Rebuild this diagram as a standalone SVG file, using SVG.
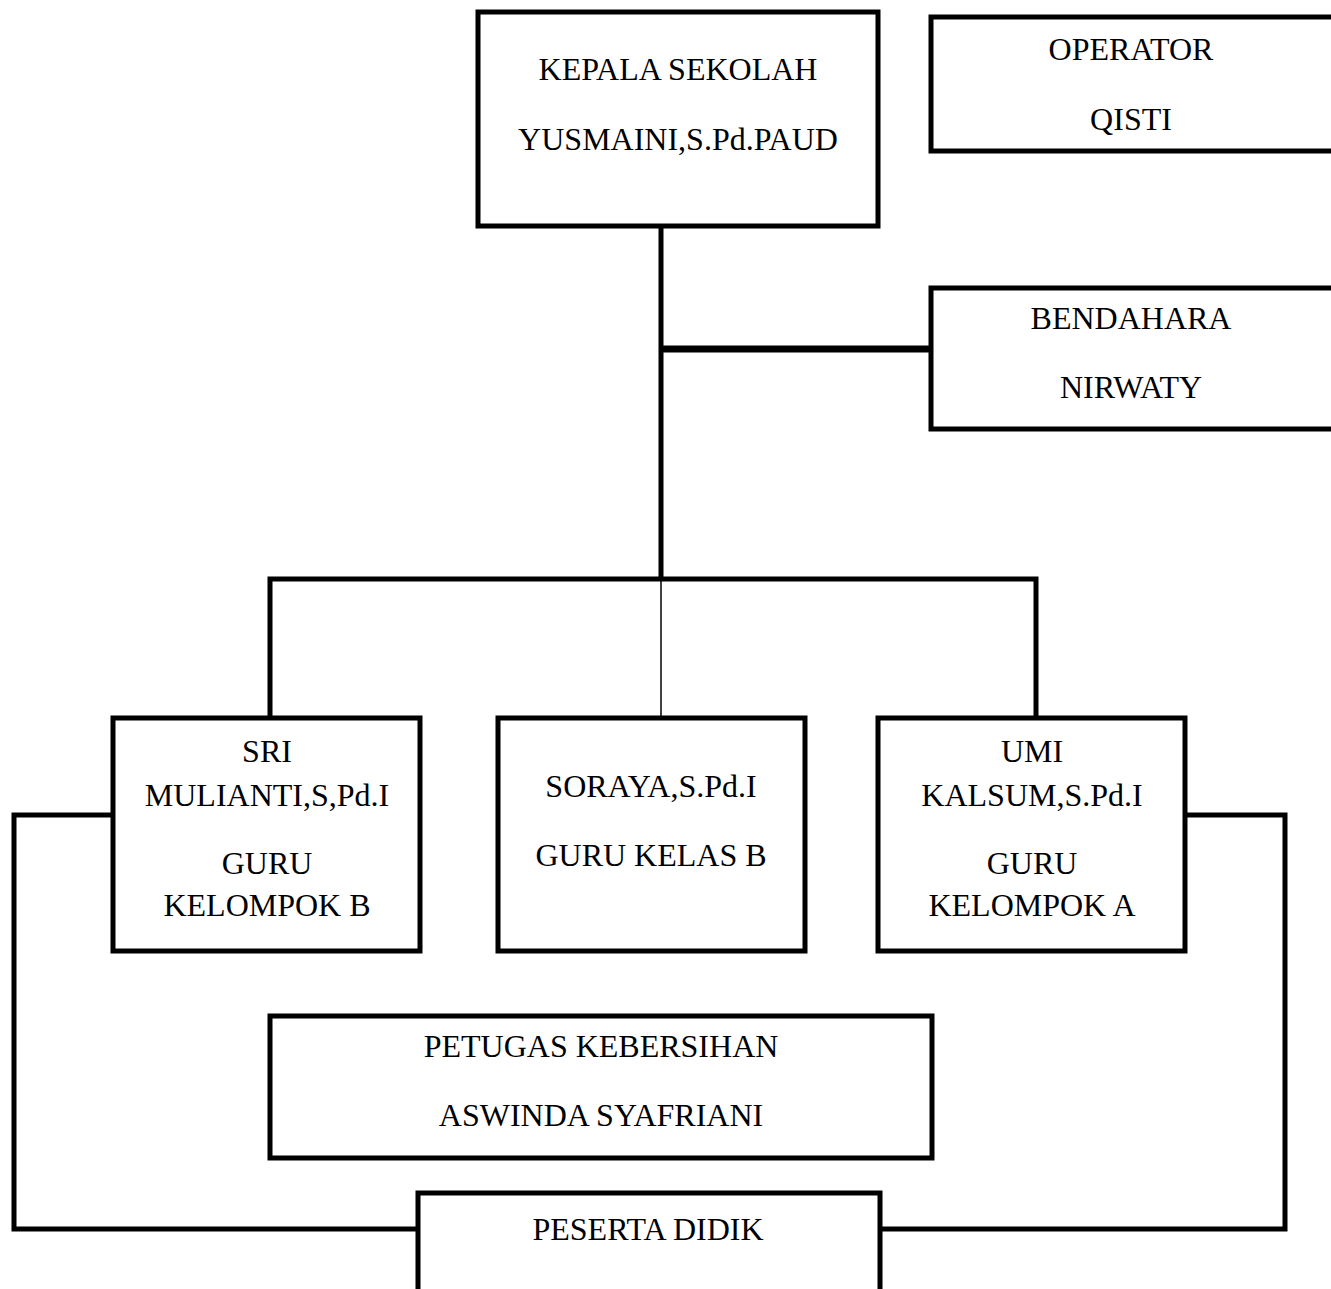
<svg xmlns="http://www.w3.org/2000/svg" width="1331" height="1289" viewBox="0 0 1331 1289">
<style>
.box{fill:#fff;stroke:#000;stroke-width:5}
.t{font-family:"Liberation Serif","Times New Roman",serif;font-size:32px;fill:#000;text-anchor:middle}
.c{fill:none;stroke:#000;stroke-width:5}
.thin{fill:none;stroke:#000;stroke-width:1.5}
</style>
<rect width="1331" height="1289" fill="#fff"/>
<g id="connectors">
<line class="c" x1="661" y1="226" x2="661" y2="579"/>
<line class="c" x1="661" y1="349" x2="931" y2="349" style="stroke-width:7"/>
<polyline class="c" points="270,718 270,579 1036,579 1036,718"/>
<line class="thin" x1="661" y1="579" x2="661" y2="718"/>
<polyline class="c" points="113,815 14,815 14,1229 418,1229"/>
<polyline class="c" points="1185,815 1285,815 1285,1229 880,1229"/>
</g>
<g id="kepala">
<rect class="box" x="478" y="12" width="400" height="214"/>
<text class="t" x="678" y="80">KEPALA SEKOLAH</text>
<text class="t" x="678" y="150">YUSMAINI,S.Pd.PAUD</text>
</g>
<g id="operator">
<rect class="box" x="931" y="17" width="404" height="134"/>
<text class="t" x="1131" y="60">OPERATOR</text>
<text class="t" x="1131" y="130">QISTI</text>
</g>
<g id="bendahara">
<rect class="box" x="931" y="288" width="404" height="141"/>
<text class="t" x="1131" y="329">BENDAHARA</text>
<text class="t" x="1131" y="398">NIRWATY</text>
</g>
<g id="sri">
<rect class="box" x="113" y="718" width="307" height="233"/>
<text class="t" x="267" y="762">SRI</text>
<text class="t" x="267" y="806">MULIANTI,S,Pd.I</text>
<text class="t" x="267" y="874">GURU</text>
<text class="t" x="267" y="916">KELOMPOK B</text>
</g>
<g id="soraya">
<rect class="box" x="498" y="718" width="307" height="233"/>
<text class="t" x="651" y="797">SORAYA,S.Pd.I</text>
<text class="t" x="651" y="866">GURU KELAS B</text>
</g>
<g id="umi">
<rect class="box" x="878" y="718" width="307" height="233"/>
<text class="t" x="1032" y="762">UMI</text>
<text class="t" x="1032" y="806">KALSUM,S.Pd.I</text>
<text class="t" x="1032" y="874">GURU</text>
<text class="t" x="1032" y="916">KELOMPOK A</text>
</g>
<g id="petugas">
<rect class="box" x="270" y="1016" width="662" height="142"/>
<text class="t" x="601" y="1057">PETUGAS KEBERSIHAN</text>
<text class="t" x="601" y="1126">ASWINDA SYAFRIANI</text>
</g>
<g id="peserta">
<rect class="box" x="418" y="1193" width="462" height="110"/>
<text class="t" x="648" y="1240">PESERTA DIDIK</text>
</g>
</svg>
